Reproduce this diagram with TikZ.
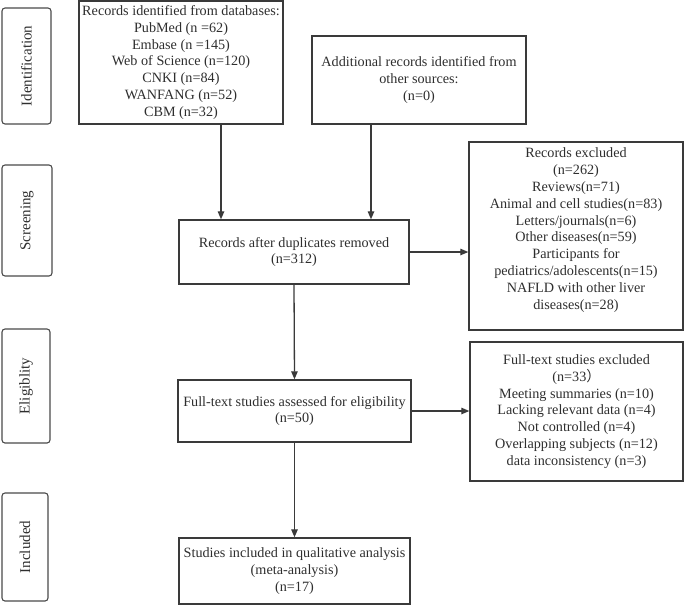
\documentclass[tikz,border=0pt]{standalone}
\usepackage{fontspec}
\setmainfont{Liberation Serif}
\newfontfamily\cjk{Noto Sans CJK SC}
\usepackage{xcolor}
\usepackage{tikz}
\usetikzlibrary{calc,arrows.meta}
\definecolor{ink}{HTML}{2E2E2E}
\definecolor{edge}{HTML}{3A3A3A}
\definecolor{sideedge}{HTML}{4A4A4A}
\tikzset{
  box/.style={draw=edge, line width=1.4pt, text=ink, align=center, inner sep=2pt,
    font=\fontsize{14.2}{16.8}\selectfont},
  side/.style={draw=sideedge, line width=1.1pt, rounded corners=3pt, text=ink, rotate=90,
    inner sep=0pt, font=\fontsize{15}{17}\selectfont},
  arr/.style={draw=edge, line width=1.3pt, -{Triangle[length=8pt,width=6.5pt]}},
}

\begin{document}
\begin{tikzpicture}[x=1pt,y=-1pt]
  \useasboundingbox (0,0) rectangle (685,606);
  % stage labels
  \node[side, minimum width=116pt, minimum height=49pt] (ident) at (26.5,66) {Identification};
  \node[side, minimum width=111pt, minimum height=50pt] (screen) at (27,220.5) {Screening};
  \node[side, minimum width=114pt, minimum height=48pt] (elig) at (26,386) {Eligiblity};
  \node[side, minimum width=108pt, minimum height=46pt] (incl) at (25,547) {Included};
  % boxes
  \node[box, minimum width=204pt, minimum height=123pt] (db) at (181,62.5)
    {Records identified from databases:\\PubMed (n =62)\\Embase (n =145)\\Web of Science (n=120)\\CNKI (n=84)\\WANFANG (n=52)\\CBM (n=32)};
  \node[box, minimum width=214pt, minimum height=88pt] (add) at (419,80)
    {Additional records identified from\\other sources:\\(n=0)};
  \node[box, minimum width=230pt, minimum height=64pt] (dup) at (294,252)
    {Records after duplicates removed\\(n=312)};
  \node[box, inner sep=0pt] (excl) at (576,236)
    {\parbox[c][188pt][t]{214pt}{\centering\vspace{6pt}Records excluded\\(n=262)\\Reviews(n=71)\\Animal and cell studies(n=83)\\Letters/journals(n=6)\\Other diseases(n=59)\\Participants for\\pediatrics/adolescents(n=15)\\NAFLD with other liver\\diseases(n=28)}};
  \node[box, minimum width=233pt, minimum height=62pt] (full) at (294.5,411)
    {Full-text studies assessed for eligibility\\(n=50)};
  \node[box, minimum width=213pt, minimum height=139pt] (excl2) at (576.5,411.5)
    {Full-text studies excluded\\(n=33{\cjk ）}\\Meeting summaries (n=10)\\Lacking relevant data (n=4)\\Not controlled (n=4)\\Overlapping subjects (n=12)\\data inconsistency (n=3)};
  \node[box, minimum width=231pt, minimum height=66pt] (qual) at (294.5,571)
    {Studies included in qualitative analysis\\(meta-analysis)\\(n=17)};
  % arrows
  \draw[arr] ([xshift=40pt]db.south) -- ([xshift=40pt]db.south |- dup.north);
  \draw[arr] ([xshift=-48pt]add.south) -- ([xshift=-48pt]add.south |- dup.north);
  \draw[arr] (dup.east) -- (dup.east -| excl.west);
  \draw[arr] (dup.south) -- (full.north);
  \draw[arr] (full.east) -- (full.east -| excl2.west);
  \draw[arr] (full.south) -- (qual.north);
\end{tikzpicture}
\end{document}
